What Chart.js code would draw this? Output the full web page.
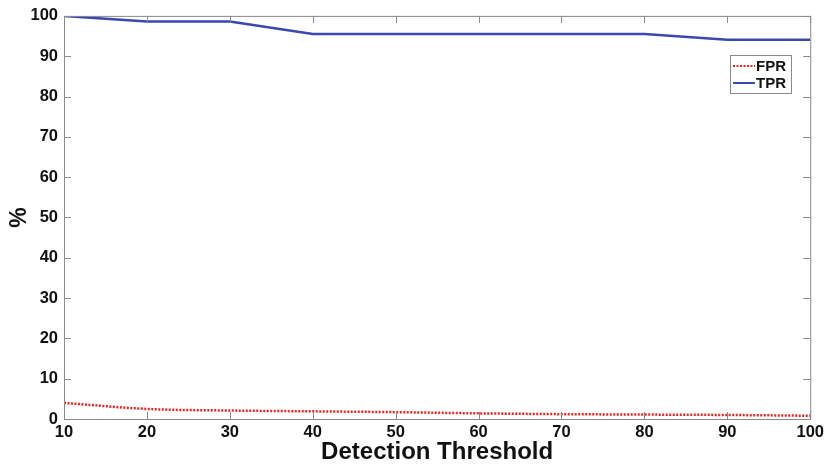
<!DOCTYPE html>
<html>
<head>
<meta charset="utf-8">
<script src="https://cdn.jsdelivr.net/npm/chart.js@4.4.1/dist/chart.umd.min.js"></script>
<style>
  html, body { margin: 0; padding: 0; background: #fff; }
  #wrap { width: 828px; height: 464px; }
</style>
</head>
<body>
<div id="wrap"><canvas id="chart" width="828" height="464"></canvas></div>
<script>
// Порог обнаружения (ось X)
const thresholds = [10, 20, 30, 40, 50, 60, 70, 80, 90, 100];
// Доля ложных срабатываний, %
const fprValues = [4.0, 2.5, 2.1, 1.9, 1.7, 1.4, 1.2, 1.1, 1.0, 0.8];
// Доля верных срабатываний, %
const tprValues = [100, 98.6, 98.6, 95.5, 95.5, 95.5, 95.5, 95.5, 94.1, 94.1];

const fontFamily = '"Liberation Sans", Arial, sans-serif';

// Рамка, внутренние засечки и легенда в стиле MATLAB
const frameAndLegend = {
    id: 'frameAndLegend',
    afterDraw(chart) {
        const ctx = chart.ctx;
        const area = chart.chartArea;
        const xs = chart.scales.x;
        const ys = chart.scales.y;
        const len = 7;

        ctx.save();
        ctx.strokeStyle = '#8a8a8a';
        ctx.lineWidth = 1;
        ctx.strokeRect(area.left + 0.5, area.top + 0.5, area.right - area.left, area.bottom - area.top);

        ctx.beginPath();
        xs.ticks.forEach(t => {
            const px = Math.round(xs.getPixelForValue(t.value)) + 0.5;
            ctx.moveTo(px, area.bottom);
            ctx.lineTo(px, area.bottom - len);
            ctx.moveTo(px, area.top);
            ctx.lineTo(px, area.top + len);
        });
        ys.ticks.forEach(t => {
            const py = Math.round(ys.getPixelForValue(t.value)) + 0.5;
            ctx.moveTo(area.left, py);
            ctx.lineTo(area.left + len, py);
            ctx.moveTo(area.right, py);
            ctx.lineTo(area.right - len, py);
        });
        ctx.stroke();

        // Легенда
        const lx = 730, ly = 55, lw = 61, lh = 38;
        ctx.fillStyle = '#fff';
        ctx.fillRect(lx, ly, lw, lh);
        ctx.strokeStyle = '#8a8a8a';
        ctx.strokeRect(lx + 0.5, ly + 0.5, lw, lh);
        ctx.font = 'bold 15px ' + fontFamily;
        ctx.textBaseline = 'middle';
        chart.data.datasets.forEach((ds, i) => {
            const y = ly + 11 + i * 17;
            ctx.beginPath();
            ctx.strokeStyle = ds.borderColor;
            ctx.lineWidth = 2;
            ctx.setLineDash(ds.borderDash || []);
            ctx.moveTo(lx + 3, y);
            ctx.lineTo(lx + 25, y);
            ctx.stroke();
            ctx.setLineDash([]);
            ctx.fillStyle = '#111';
            ctx.fillText(ds.label, lx + 26, y + 1);
        });
        ctx.restore();
    }
};

new Chart(document.getElementById('chart').getContext('2d'), {
    type: 'line',
    data: {
        labels: thresholds,
        datasets: [
            {
                label: 'FPR',
                data: fprValues,
                borderColor: 'rgb(235, 35, 35)',
                borderWidth: 2.5,
                borderDash: [2, 1.5],
                pointRadius: 0,
                cubicInterpolationMode: 'monotone',
                fill: false
            },
            {
                label: 'TPR',
                data: tprValues,
                borderColor: 'rgb(58, 72, 178)',
                borderWidth: 2.5,
                pointRadius: 0,
                tension: 0,
                fill: false
            }
        ]
    },
    options: {
        responsive: false,
        animation: false,
        layout: { padding: { top: 11, right: 17, left: 0, bottom: 0 } },
        plugins: {
            legend: { display: false },
            tooltip: { enabled: false }
        },
        scales: {
            x: {
                type: 'linear',
                min: 10,
                max: 100,
                ticks: {
                    stepSize: 10,
                    color: '#111',
                    padding: 4,
                    font: { family: fontFamily, size: 16.5, weight: 'bold' }
                },
                grid: { display: false, drawTicks: false },
                border: { display: false },
                title: {
                    display: true,
                    text: 'Detection Threshold',
                    color: '#111',
                    padding: { top: 0, bottom: 0 },
                    font: { family: fontFamily, size: 24, weight: 'bold', lineHeight: 1 }
                },
                afterFit(scale) { scale.height = 45; }
            },
            y: {
                min: 0,
                max: 100,
                ticks: {
                    stepSize: 10,
                    color: '#111',
                    padding: 6,
                    font: { family: fontFamily, size: 16.5, weight: 'bold' }
                },
                grid: { display: false, drawTicks: false },
                border: { display: false },
                title: {
                    display: true,
                    text: '%',
                    color: '#111',
                    padding: { top: 6, bottom: 0 },
                    font: { family: fontFamily, size: 23, weight: 'bold' }
                },
                afterFit(scale) { scale.width = 64; }
            }
        }
    },
    plugins: [frameAndLegend]
});
</script>
</body>
</html>
